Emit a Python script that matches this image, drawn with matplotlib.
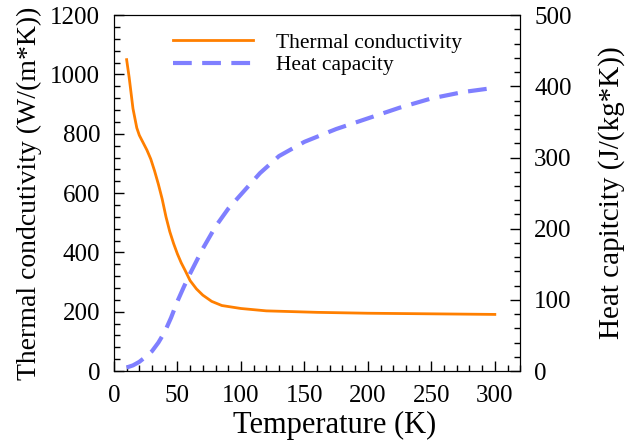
import numpy as np
import matplotlib
matplotlib.use("Agg")
import matplotlib.pyplot as plt
from matplotlib.ticker import MultipleLocator

# thermal conductivity, W/(m*K)
temp_k = [10, 12, 15, 18, 20, 23, 26, 29, 32, 35, 38, 41, 44, 47, 50, 53, 56, 60,
          65, 70, 77, 85, 100, 120, 160, 200, 250, 300]
kappa = [1050, 990, 885, 820, 795, 770, 745, 715, 675, 630, 580, 520, 470, 430, 395, 365, 340, 305,
         277, 256, 235, 221, 211, 203, 198, 195, 193, 191]

# heat capacity, J/(kg*K)
temp_c = [10, 15, 20, 25, 30, 35, 40, 45, 50, 55, 60, 70, 80, 90, 100,
          115, 130, 150, 175, 200, 225, 250, 275, 300]
cap = [5, 8, 13, 20, 28, 40, 55, 75, 98, 118, 137, 172, 203, 228, 248,
       278, 302, 322, 340, 355, 370, 383, 392, 398]

plt.rcParams['font.family'] = ['Liberation Serif', 'DejaVu Serif']
plt.rcParams['font.size'] = 18

fig = plt.figure(figsize=(6.26, 4.46), dpi=100)
ax = fig.add_axes([0.182, 0.168, 0.649, 0.798])
ax2 = ax.twinx()

l1, = ax.plot(temp_k, kappa, color='#ff7f00', linewidth=2, label='Thermal conductivity')
l2, = ax2.plot(temp_c, cap, color='#7f7fff', linewidth=3, dashes=(4.5, 2.5), label='Heat capacity')

ax.set_xlim(0, 320)
ax.set_ylim(0, 1200)
ax2.set_ylim(0, 500)

ax.xaxis.set_major_locator(MultipleLocator(50))
ax.xaxis.set_minor_locator(MultipleLocator(10))
ax.yaxis.set_major_locator(MultipleLocator(200))
ax.yaxis.set_minor_locator(MultipleLocator(40))
ax2.yaxis.set_major_locator(MultipleLocator(100))
ax2.yaxis.set_minor_locator(MultipleLocator(20))

for a in (ax, ax2):
    a.tick_params(which='major', direction='in', length=7, width=1, pad=10)
    a.tick_params(which='minor', direction='in', length=4, width=1)
ax.tick_params(top=False, right=False, which='both')
ax.tick_params(axis='y', which='both', right=False)

ax.set_xlabel('Temperature (K)', fontsize=22)
ax.xaxis.set_label_coords(0.544, -0.112)
ax.set_ylabel('Thermal condcutivity (W/(m*K))', fontsize=20, labelpad=6)
ax2.set_ylabel('Heat capitcity (J/(kg*K))', fontsize=21, labelpad=19)

ax.legend(handles=[l1, l2], loc='upper left', bbox_to_anchor=(0.098, 1.005),
          frameon=False, fontsize=15.5, handlelength=3.7, handletextpad=1.1,
          labelspacing=0.12)

fig.savefig('out.png', dpi=100)
